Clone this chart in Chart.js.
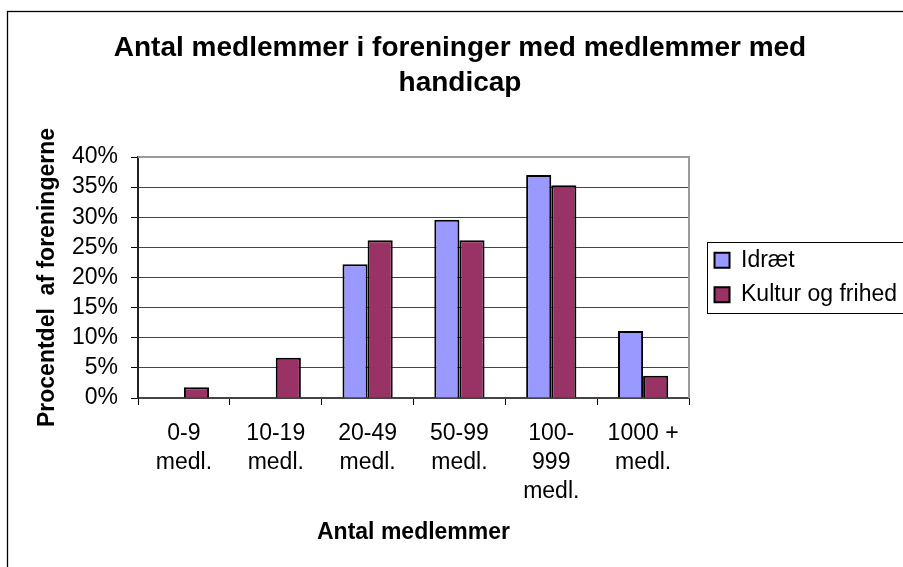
<!DOCTYPE html>
<html><head><meta charset="utf-8">
<script src="https://cdn.jsdelivr.net/npm/chart.js@4.4.1/dist/chart.umd.min.js"></script>
<style>html,body{margin:0;padding:0;background:#fff}#wrap{width:903px;height:567px}</style>
</head><body><div id="wrap"><canvas id="c" width="903" height="567"></canvas></div>
<script>
const categories = [['0-9','medl.'],['10-19','medl.'],['20-49','medl.'],['50-99','medl.'],['100-','999','medl.'],['1000 +','medl.']];
const seriesNames = ['Idræt','Kultur og frihed'];
const idraet = [0, 0, 22.2, 29.6, 37.0, 11.1];
const kultur = [1.8, 6.7, 26.2, 26.2, 35.3, 3.7];
const yMin = 0, yMax = 40, yStep = 5;
const titleLines = ['Antal medlemmer i foreninger med medlemmer med','handicap'];
const yTitle = 'Procentdel  af foreningerne';
const xTitle = 'Antal medlemmer';

const FONT = "'Liberation Sans', Arial, sans-serif";
Chart.defaults.font.family = FONT;
Chart.defaults.color = '#000';

const framePlugin = {
  id: 'frame',
  afterLayout(chart) {
    const lg = chart.legend;
    const gap = 14;
    lg.left += gap; lg.right += gap;
  },
  beforeDraw(chart) {
    const ctx = chart.ctx;
    ctx.save();
    ctx.fillStyle = '#fff';
    ctx.fillRect(0, 0, chart.width, chart.height);
    ctx.strokeStyle = '#000';
    ctx.lineWidth = 1.3;
    ctx.strokeRect(7.5, 11.5, chart.width + 10, chart.height + 10);
    ctx.restore();
  },
  beforeDatasetsDraw(chart) {
    const ctx = chart.ctx, a = chart.chartArea;
    ctx.save();
    ctx.strokeStyle = '#9a9a9a';
    ctx.lineWidth = 2;
    ctx.beginPath();
    ctx.moveTo(a.left, a.top);
    ctx.lineTo(a.right, a.top);
    ctx.lineTo(a.right, a.bottom);
    ctx.stroke();
    ctx.restore();
  },
  afterDraw(chart) {
    const lg = chart.legend;
    const hb = lg.legendHitBoxes;
    if (!hb || !hb.length) return;
    const ctx = chart.ctx;
    const top = hb[0].top - 7;
    const bottom = hb[hb.length - 1].top + hb[hb.length - 1].height + 6.5;
    const left = hb[0].left - 7.5;
    ctx.save();
    ctx.strokeStyle = '#000';
    ctx.lineWidth = 1;
    ctx.strokeRect(Math.round(left) + 0.5, Math.round(top) + 0.5, chart.width, Math.round(bottom - top));
    ctx.restore();
  }
};

new Chart(document.getElementById('c'), {
  type: 'bar',
  data: {
    labels: categories,
    datasets: [
      { label: seriesNames[0], data: idraet, backgroundColor: '#9999FF', borderColor: '#000', borderWidth: 2, borderSkipped: 'bottom' },
      { label: seriesNames[1], data: kultur, backgroundColor: '#993366', borderColor: '#000', borderWidth: 2, borderSkipped: 'bottom' }
    ]
  },
  options: {
    responsive: false,
    devicePixelRatio: 1,
    animation: false,
    layout: { padding: { left: 27, right: 10, top: 0, bottom: 0 } },
    datasets: { bar: { categoryPercentage: 0.547, barPercentage: 1 } },
    plugins: {
      title: {
        display: true, text: titleLines,
        font: { size: 28, weight: 'bold', lineHeight: 1.25 },
        padding: { top: 31, bottom: 56 }, color: '#000'
      },
      legend: {
        position: 'right', fullSize: false, align: 'center',
        labels: { boxWidth: 15, boxHeight: 15, padding: 11.5, font: { size: 23 }, color: '#000' }
      },
      tooltip: { enabled: false }
    },
    scales: {
      x: {
        offset: true,
        grid: { display: true, drawOnChartArea: false, drawTicks: true, tickLength: 7, tickColor: '#000', tickWidth: 1 },
        border: { display: true, color: '#444', width: 2 },
        ticks: { font: { size: 23, lineHeight: 1.26 }, padding: 14.5, maxRotation: 0, minRotation: 0, autoSkip: false, color: '#000' },
        title: { display: true, text: xTitle, font: { size: 23, weight: 'bold', lineHeight: 1.2 }, padding: { top: 0, bottom: 21 }, color: '#000' },
        afterFit(s) { s.height = 169; }
      },
      y: {
        min: yMin, max: yMax,
        grid: { color: '#444', lineWidth: 1, drawTicks: true, tickLength: 7, tickColor: '#000', tickWidth: 1 },
        border: { display: true, color: '#222', width: 2 },
        ticks: { stepSize: yStep, autoSkip: false, font: { size: 23 }, padding: 13, color: '#000', callback: v => v + '%' },
        title: { display: true, text: yTitle, font: { size: 23, weight: 'bold', lineHeight: 1.2 }, padding: { top: 7, bottom: 0 }, color: '#000' },
        afterFit(s) { s.width = 111; }
      }
    }
  },
  plugins: [framePlugin]
});
</script>
</body></html>
